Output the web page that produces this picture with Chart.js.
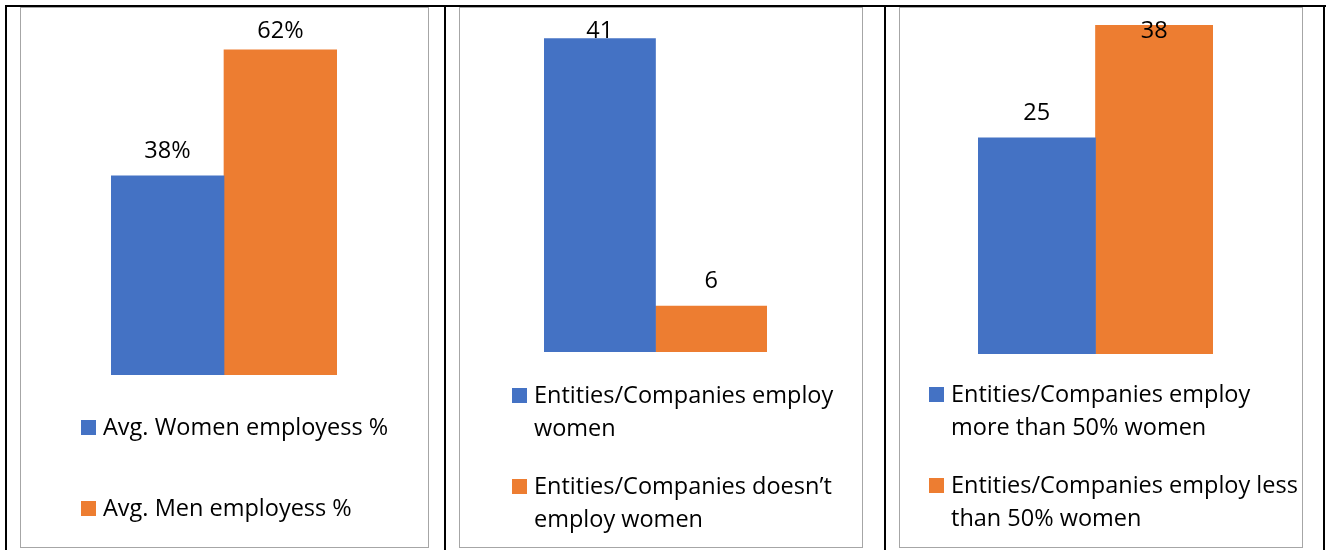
<!DOCTYPE html>
<html>
<head>
<meta charset="utf-8">
<script src="https://cdn.jsdelivr.net/npm/chart.js@4/dist/chart.umd.min.js"></script>
<style>
  body { margin: 0; background: #fff; width: 1326px; height: 550px; overflow: hidden; position: relative; }
  .rule { position: absolute; background: #000; }
  .frame { position: absolute; box-sizing: border-box; border: 1px solid #a6a6a6; }
  .holder { position: absolute; }
</style>
</head>
<body>
<!-- table lines -->
<div class="rule" style="left:5px;top:5px;width:1321px;height:2px"></div>
<div class="rule" style="left:5px;top:5px;width:2px;height:545px"></div>
<div class="rule" style="left:444px;top:5px;width:2px;height:545px"></div>
<div class="rule" style="left:884px;top:5px;width:2px;height:545px"></div>
<div class="rule" style="left:1323px;top:5px;width:2px;height:545px"></div>

<div class="frame" style="left:20px;top:7px;width:409px;height:541px"></div>
<div class="frame" style="left:459px;top:7px;width:404px;height:541px"></div>
<div class="frame" style="left:899px;top:7px;width:404px;height:541px"></div>

<div class="holder" style="left:20px;top:8px;width:408px;height:540px"><canvas id="chart-1"></canvas></div>
<div class="holder" style="left:459px;top:8px;width:404px;height:540px"><canvas id="chart-2"></canvas></div>
<div class="holder" style="left:899px;top:8px;width:404px;height:540px"><canvas id="chart-3"></canvas></div>

<script>
// data
var seriesColors = ['#4472C4', '#ED7D31'];

var avgLabels = [['Avg. Women employess %'], ['Avg. Men employess %']];
var avgValues = [38, 62];

var employLabels = [['Entities/Companies employ', 'women'], ['Entities/Companies doesn\u2019t', 'employ women']];
var employValues = [41, 6];

var shareLabels = [['Entities/Companies employ', 'more than 50% women'], ['Entities/Companies employ less', 'than 50% women']];
var shareValues = [25, 38];

var textFont = '23.5px "Open Sans", sans-serif';

// value labels above the bars, kept inside the top of the chart
var barLabels = {
    id: 'barLabels',
    afterDatasetsDraw: function (chart) {
        var opts = chart.options.plugins.barLabels;
        var ctx = chart.ctx;
        ctx.save();
        ctx.font = textFont;
        ctx.fillStyle = '#000';
        ctx.textAlign = 'center';
        ctx.textBaseline = 'alphabetic';
        chart.data.datasets.forEach(function (ds, i) {
            var bar = chart.getDatasetMeta(i).data[0];
            var y = Math.max(bar.y - 18, opts.minY);
            ctx.fillText(ds.data[0] + opts.suffix, bar.x, y);
        });
        ctx.restore();
    }
};

// stacked legend with wrapped lines
var sideLegend = {
    id: 'sideLegend',
    afterDraw: function (chart) {
        var opts = chart.options.plugins.sideLegend;
        var ctx = chart.ctx;
        ctx.save();
        ctx.font = textFont;
        ctx.textAlign = 'left';
        ctx.textBaseline = 'middle';
        chart.data.datasets.forEach(function (ds, i) {
            var top = opts.y + i * opts.itemGap;
            ctx.fillStyle = ds.backgroundColor;
            ctx.fillRect(opts.x, top, 15, 15);
            ctx.fillStyle = '#000';
            ds.lines.forEach(function (line, j) {
                ctx.fillText(line, opts.x + 22, top + 8 + j * opts.lineHeight);
            });
        });
        ctx.restore();
    }
};

function makeChart(id, values, labels, suffix, max, padding, legendPos) {
    var config = {
        type: 'bar',
        data: {
            labels: [''],
            datasets: values.map(function (v, i) {
                return {
                    label: labels[i].join(' '),
                    lines: labels[i],
                    data: [v],
                    backgroundColor: seriesColors[i],
                    barPercentage: 1,
                    categoryPercentage: 1
                };
            })
        },
        options: {
            responsive: true,
            maintainAspectRatio: false,
            animation: false,
            layout: { padding: padding },
            scales: {
                x: { display: false },
                y: { display: false, min: 0, max: max }
            },
            plugins: {
                legend: { display: false },
                tooltip: { enabled: false },
                barLabels: { suffix: suffix, minY: 29.5 },
                sideLegend: legendPos
            }
        },
        plugins: [barLabels, sideLegend]
    };
    var ctx = document.getElementById(id).getContext('2d');
    return new Chart(ctx, config);
}

makeChart('chart-1', avgValues, avgLabels, '%', 70,
    { left: 91, right: 91, top: 0, bottom: 173 },
    { x: 61, y: 412, itemGap: 81, lineHeight: 33 });

makeChart('chart-2', employValues, employLabels, '', 45,
    { left: 85, right: 96, top: 0, bottom: 196 },
    { x: 53, y: 380, itemGap: 91, lineHeight: 33 });

makeChart('chart-3', shareValues, shareLabels, '', 40,
    { left: 79, right: 90, top: 0, bottom: 194 },
    { x: 30, y: 379, itemGap: 91, lineHeight: 33 });
</script>
</body>
</html>
